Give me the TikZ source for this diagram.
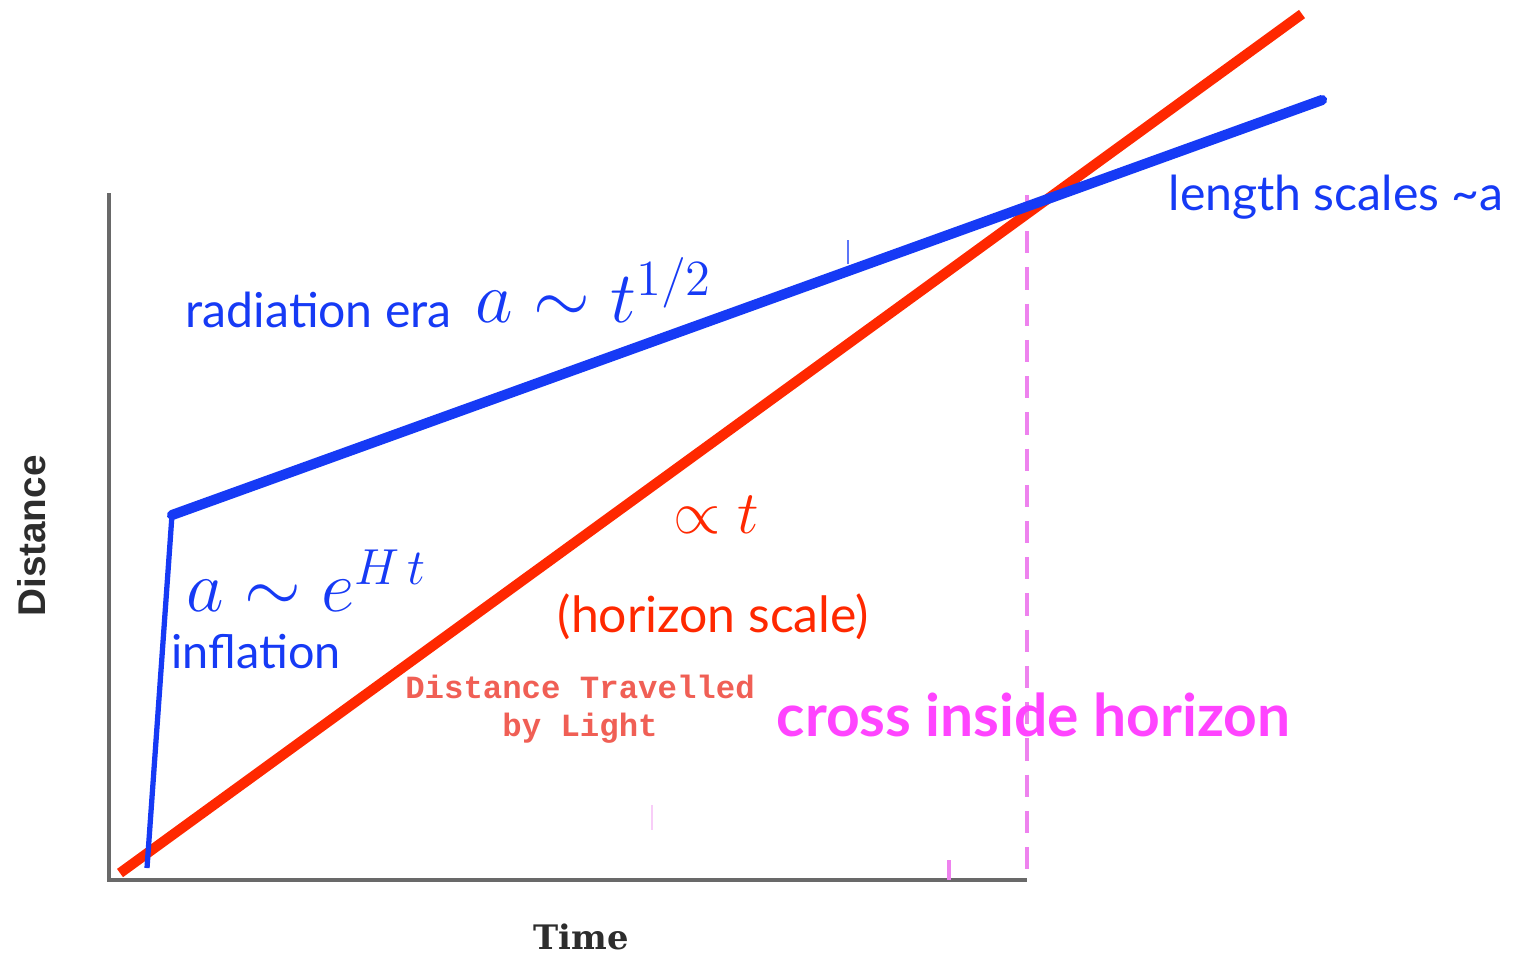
\documentclass[tikz,border=0pt]{standalone}
\usepackage{amsmath,amssymb}
\usepackage{fontspec}
\newfontfamily\gillfont{Lato}
\newfontfamily\slabfont{Liberation Mono}
\newfontfamily\axisfont{Liberation Sans}
\newfontfamily\timefont{DejaVu Serif}

\definecolor{scaleblue}{RGB}{22,58,245}
\definecolor{lightred}{RGB}{255,40,0}
\definecolor{crossmag}{RGB}{255,68,255}
\definecolor{dashviolet}{RGB}{238,130,238}
\definecolor{axisgray}{RGB}{105,105,105}
\definecolor{fadedred}{RGB}{240,95,85}
\definecolor{labelgray}{RGB}{45,45,45}

\tikzset{
    axisline/.style={draw=axisgray,line width=0.9pt},
    blueword/.style={text=scaleblue,inner sep=0pt,font=\gillfont\fontsize{13.7}{17}\selectfont},
    redword/.style={text=lightred,inner sep=0pt,font=\gillfont\fontsize{14.2}{17}\selectfont},
    bigmath/.style={inner sep=0pt,font=\fontsize{19.6}{24}\selectfont}
}

\begin{document}
\begin{tikzpicture}[x=0.01cm,y=-0.01cm]
\useasboundingbox (0,0) rectangle (1513,956);

% Axes
\coordinate (origin) at (109,880);
\coordinate (ytop) at (109,193);
\coordinate (xend) at (1027,880);
\draw[axisline] (ytop) -- (origin) -- (xend);

% Horizon crossing
\coordinate (crosstop) at (1027,195);
\draw[dashviolet,line width=1.2pt,dash pattern=on 6.3pt off 4pt] (crosstop) -- (xend);
\coordinate (tickA) at (949,860);
\coordinate (tickB) at (949,880);
\draw[dashviolet,line width=1.2pt] (tickA) -- (tickB);
\coordinate (tickC) at (652,805);
\coordinate (tickD) at (652,830);
\draw[dashviolet!40,line width=0.5pt] (tickC) -- (tickD);

% Light travel distance
\coordinate (lightstart) at (120,873);
\coordinate (lightend) at (1302,14);
\draw[lightred,line width=2.9pt] (lightstart) -- (lightend);

% Scale factor: inflation then radiation
\coordinate (infstart) at (147,868);
\coordinate (kink) at (172,515);
\coordinate (radend) at (1322,100);
\draw[scaleblue,line width=1.5pt] (infstart) -- (kink);
\draw[scaleblue,line width=2.9pt,line cap=round] (kink) -- (radend);
\coordinate (bluetickA) at (848,240);
\coordinate (bluetickB) at (848,264);
\draw[scaleblue!70,line width=0.8pt] (bluetickA) -- (bluetickB);

% Labels
\node[blueword,anchor=base west] (radiation) at (185,327) {radiation era};
\node[bigmath,text=scaleblue,anchor=base west] (radlaw) at (475,322) {$a\sim t^{1/2}$};
\node[blueword,anchor=base west] (lengthscales) at (1168,210) {length scales \textasciitilde a};
\node[bigmath,text=scaleblue,anchor=base west] (inflaw) at (186,611) {$a\sim e^{H\,t}$};
\node[blueword,font=\gillfont\fontsize{13.3}{16}\selectfont,anchor=base west] (inflation) at (171,668) {inflation};
\node[text=lightred,inner sep=0pt,anchor=base west,font=\fontsize{16}{19}\selectfont] (proptime) at (673,533) {$\propto t$};
\node[redword,anchor=base west] (horizon) at (557,632) {(horizon scale)};
\node[text=fadedred,align=center,inner sep=0pt,font=\slabfont\bfseries\fontsize{9.2}{10.8}\selectfont] (travelled) at (580,709) {Distance Travelled\\by Light};
\node[text=crossmag,inner sep=0pt,anchor=base west,font=\gillfont\bfseries\fontsize{16.7}{19}\selectfont] (crossinside) at (776,736) {cross inside horizon};
\node[text=labelgray,rotate=90,inner sep=0pt,font=\axisfont\bfseries\fontsize{11}{13}\selectfont] (distance) at (32,536) {Distance};
\node[text=labelgray,inner sep=0pt,font=\timefont\bfseries\fontsize{9.6}{11}\selectfont] (time) at (581,937) {Time};

\end{tikzpicture}
\end{document}
